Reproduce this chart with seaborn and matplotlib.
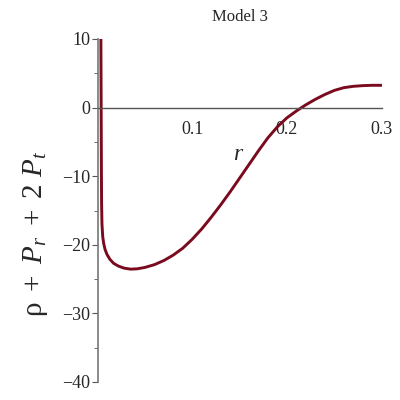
import matplotlib
matplotlib.use("Agg")
import matplotlib.pyplot as plt
from matplotlib.ticker import MultipleLocator
import seaborn as sns
import pandas as pd

# values
r_vals = [0.0035, 0.0037, 0.0039, 0.0041, 0.0043, 0.0047, 0.0055, 0.0065, 0.008,
          0.010, 0.013, 0.017, 0.022, 0.028, 0.035, 0.042, 0.050, 0.060, 0.070,
          0.080, 0.090, 0.100, 0.110, 0.120, 0.130, 0.140, 0.150, 0.160, 0.170,
          0.180, 0.190, 0.200, 0.210, 0.2155, 0.220, 0.230, 0.240, 0.250, 0.260,
          0.270, 0.280, 0.290, 0.300]
q_vals = [12.0, 5.0, -2.0, -9.0, -14.0, -17.0, -18.8, -19.8, -20.7,
          -21.4, -22.1, -22.7, -23.1, -23.4, -23.55, -23.5, -23.3, -22.9, -22.3,
          -21.5, -20.5, -19.2, -17.7, -16.0, -14.2, -12.3, -10.3, -8.3, -6.3,
          -4.4, -2.8, -1.5, -0.5, 0.0, 0.4, 1.2, 1.9, 2.5, 2.9,
          3.1, 3.2, 3.25, 3.25]
x_ticks = [0.1, 0.2, 0.3]
y_ticks = [-40, -30, -20, -10, 0, 10]

df = pd.DataFrame({"r": r_vals, "q": q_vals})

sns.set_style("white")
plt.rcParams['font.family'] = ['Liberation Serif', 'DejaVu Serif']
plt.rcParams['mathtext.fontset'] = 'custom'
plt.rcParams['mathtext.rm'] = 'Liberation Serif'
plt.rcParams['mathtext.it'] = 'Liberation Serif:italic'

fig = plt.figure(figsize=(4, 4), dpi=100)
ax = fig.add_axes([0.2438, 0.045, 0.71, 0.8575])

sns.lineplot(data=df, x="r", y="q", ax=ax, color="#7a0a1e", linewidth=2.1)

ax.set_xlim(0, 0.3)
ax.set_ylim(-40, 10)

# Maple-style axes crossing at origin
ax.spines['left'].set_position(('data', 0))
ax.spines['bottom'].set_position(('data', 0))
ax.spines['right'].set_visible(False)
ax.spines['top'].set_visible(False)
ax.spines['left'].set_color('#777777')
ax.spines['bottom'].set_color('#555555')
ax.spines['left'].set_linewidth(1.2)
ax.spines['bottom'].set_linewidth(1.0)

ax.set_xticks(x_ticks)
ax.set_yticks(y_ticks)
ax.xaxis.set_minor_locator(MultipleLocator(0.05))
ax.yaxis.set_minor_locator(MultipleLocator(5))
ax.tick_params(axis='x', which='both', direction='in', color='#555555',
               labelsize=13, pad=10)
ax.tick_params(axis='x', which='major', length=4)
ax.tick_params(axis='x', which='minor', length=3)
ax.tick_params(axis='y', which='both', direction='out', color='#555555',
               labelsize=13, left=True, pad=1)
ax.tick_params(axis='y', which='major', length=4)
ax.tick_params(axis='y', which='minor', length=3)

ax.set_xlabel("")
ax.set_ylabel("")
ax.text(0.148, -6.8, "r", fontsize=17, style='italic', ha='center', va='center')
fig.text(0.09, 0.415, r"$\mathrm{\rho}\ +\ P_{r}\ +\ 2\ P_{t}$", fontsize=21,
         rotation=90, ha='center', va='center')
ax.set_title("Model 3", fontsize=12, pad=13)

fig.savefig("out.png", dpi=100)
